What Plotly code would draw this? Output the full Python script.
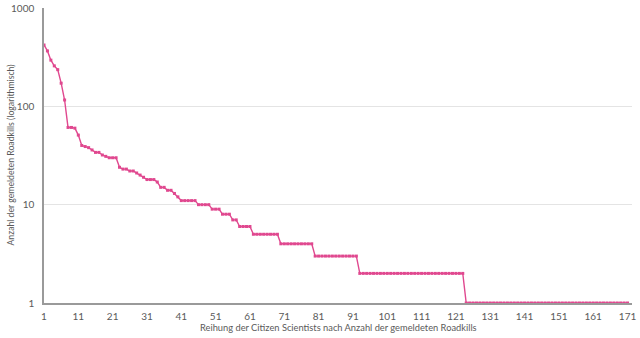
import plotly.graph_objects as go

head_values = [421, 366, 295, 258, 236, 172, 116, 61, 61, 60, 51, 40, 39, 38, 36,
               34, 34, 32, 31, 30, 30, 30, 24, 23, 23, 22, 22, 21, 20, 19,
               18, 18, 18, 17, 15, 15, 14, 14, 13, 12]
plateau_values = [11, 10, 9, 8, 7, 6, 5, 4, 3, 2, 1]
plateau_lengths = [5, 4, 3, 3, 2, 4, 8, 10, 13, 31, 48]

values = list(head_values)
for v, n in zip(plateau_values, plateau_lengths):
    values += [v] * n
ranks = list(range(1, len(values) + 1))

tick_vals = list(range(1, 172, 10))
y_ticks = [1, 10, 100, 1000]

x_title = "Reihung der Citizen Scientists nach Anzahl der gemeldeten Roadkills"
y_title = "Anzahl der gemeldeten Roadkills (logarithmisch)"

pink = "#E0488F"
grey = "#5a5a5a"
font_family = "Lato, 'Open Sans', sans-serif"

fig = go.Figure(go.Scatter(
    x=ranks, y=values, mode="lines+markers",
    line=dict(color=pink, width=1.4),
    marker=dict(color=pink, size=3, symbol="square"),
    hoverinfo="x+y",
))

fig.update_layout(
    width=640, height=338,
    margin=dict(l=44, r=8, t=8, b=35),
    paper_bgcolor="white", plot_bgcolor="white",
    showlegend=False,
    font=dict(family=font_family, size=10, color=grey),
    xaxis=dict(
        range=[1, 172.3], tickvals=tick_vals, ticktext=[str(t) for t in tick_vals],
        showgrid=False, zeroline=False, automargin=False,
        showline=True, linecolor="#9a9a9a", linewidth=1.5,
        ticks="", ticklabelstandoff=3,
        tickfont=dict(size=10, color=grey),
    ),
    yaxis=dict(
        type="log", range=[0, 3], tickvals=y_ticks, ticktext=[str(t) for t in y_ticks],
        showgrid=True, gridcolor="#e4e4e4", gridwidth=1, automargin=False,
        zeroline=False, showline=True, linecolor="#9a9a9a", linewidth=1.5,
        ticks="", ticklabelstandoff=6,
        tickfont=dict(size=10, color=grey),
    ),
    annotations=[
        dict(text=x_title, xref="paper", yref="paper", x=0.5, y=0,
             yshift=-24, xanchor="center", yanchor="middle", showarrow=False,
             font=dict(size=9.3, color=grey)),
        dict(text=y_title, xref="paper", yref="paper", x=0, y=0.5,
             xshift=-34, xanchor="center", yanchor="middle", showarrow=False,
             textangle=-90, font=dict(size=8.7, color=grey)),
    ],
)

fig.write_html("out.html")
